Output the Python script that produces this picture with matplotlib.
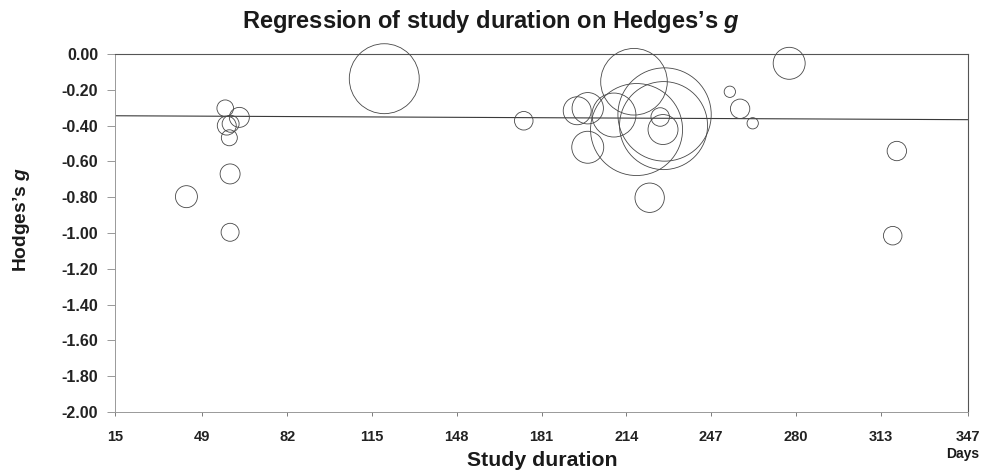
import numpy as np
import matplotlib
matplotlib.use("Agg")
import matplotlib.pyplot as plt

plt.rcParams['font.family'] = ['Liberation Sans', 'DejaVu Sans']
plt.rcParams['font.weight'] = 'bold'
plt.rcParams['mathtext.fontset'] = 'custom'
plt.rcParams['mathtext.rm'] = 'Liberation Sans:bold'
plt.rcParams['mathtext.it'] = 'Liberation Sans:bold:italic'

#---Data
# study duration (days)
duration = [119.8, 57.9, 63.4, 58.5, 60.0, 59.5, 59.8, 42.8, 59.8,
            174.1, 194.9, 199.0, 209.2, 217.0, 228.9, 218.0, 228.5,
            227.2, 228.3, 199.0, 223.1, 254.3, 258.3, 263.2, 277.4,
            319.3, 317.7]
# effect size (Hedges's g)
hedges_g = [-0.138, -0.303, -0.354, -0.400, -0.390, -0.468, -0.670, -0.797, -0.996,
            -0.373, -0.317, -0.303, -0.341, -0.155, -0.338, -0.422, -0.400,
            -0.352, -0.422, -0.521, -0.803, -0.211, -0.306, -0.387, -0.052,
            -0.542, -1.015]
# relative study weight (bubble area)
weight = [12.25, 0.69, 1.00, 0.90, 0.72, 0.64, 1.00, 1.21, 0.81,
          0.86, 1.96, 2.46, 4.84, 11.10, 21.80, 21.20, 19.40,
          0.86, 2.25, 2.56, 2.16, 0.32, 0.94, 0.32, 2.56,
          0.94, 0.86]

# meta-regression line
reg_intercept = -0.344
reg_slope = -0.000066

x_ticks = [15, 49, 82, 115, 148, 181, 214, 247, 280, 313, 347]
y_ticks = [0.00, -0.20, -0.40, -0.60, -0.80, -1.00, -1.20, -1.40, -1.60, -1.80, -2.00]

#---Plot
fig = plt.figure(figsize=(9.82, 4.70), dpi=100)
ax = fig.add_axes([115/982, 1 - 412/470, (968 - 115)/982, (412 - 54)/470])

ax.scatter(duration, hedges_g, s=np.array(weight) * 207, facecolors='none',
           edgecolors='#474747', linewidths=0.6, zorder=3, clip_on=False)

xs = np.array([x_ticks[0], x_ticks[-1]])
ax.plot(xs, reg_intercept + reg_slope * xs, color='#3a3a3a', lw=0.8, zorder=2)

ax.set_xlim(x_ticks[0], x_ticks[-1])
ax.set_ylim(y_ticks[-1], y_ticks[0])
ax.set_xticks(x_ticks)
ax.set_xticklabels([str(t) for t in x_ticks])
ax.set_yticks(y_ticks)
ax.set_yticklabels(["%.2f" % t for t in y_ticks])

ax.tick_params(axis='both', colors='#222222')
ax.tick_params(axis='y', labelsize=11.5, length=6, width=0.6, pad=6, color='#888888')
ax.tick_params(axis='x', labelsize=10.5, length=3, width=0.6, pad=10, color='#666666')

for side in ['left', 'bottom']:
    ax.spines[side].set_color('#999999')
    ax.spines[side].set_linewidth(0.7)
for side in ['top', 'right']:
    ax.spines[side].set_color('#555555')
    ax.spines[side].set_linewidth(0.8)

fig.text(242/982, 1 - 28/470, "Regression of study duration on Hedges\u2019s $g$",
         fontsize=17, fontweight='bold', ha='left', va='baseline', color='#1a1a1a')
fig.text(542/982, 1 - 466/470, "Study duration", fontsize=15.3, fontweight='bold',
         ha='center', va='baseline', color='#1a1a1a')
fig.text(22/982, 1 - 220/470, "Hodges\u2019s $g$", fontsize=13.8, fontweight='bold',
         rotation=90, ha='center', va='center', color='#1a1a1a')
fig.text(963/982, 1 - 454/470, "Days", fontsize=10, fontweight='bold',
         ha='center', va='center', color='#1a1a1a')

fig.savefig("out.png", dpi=100)
